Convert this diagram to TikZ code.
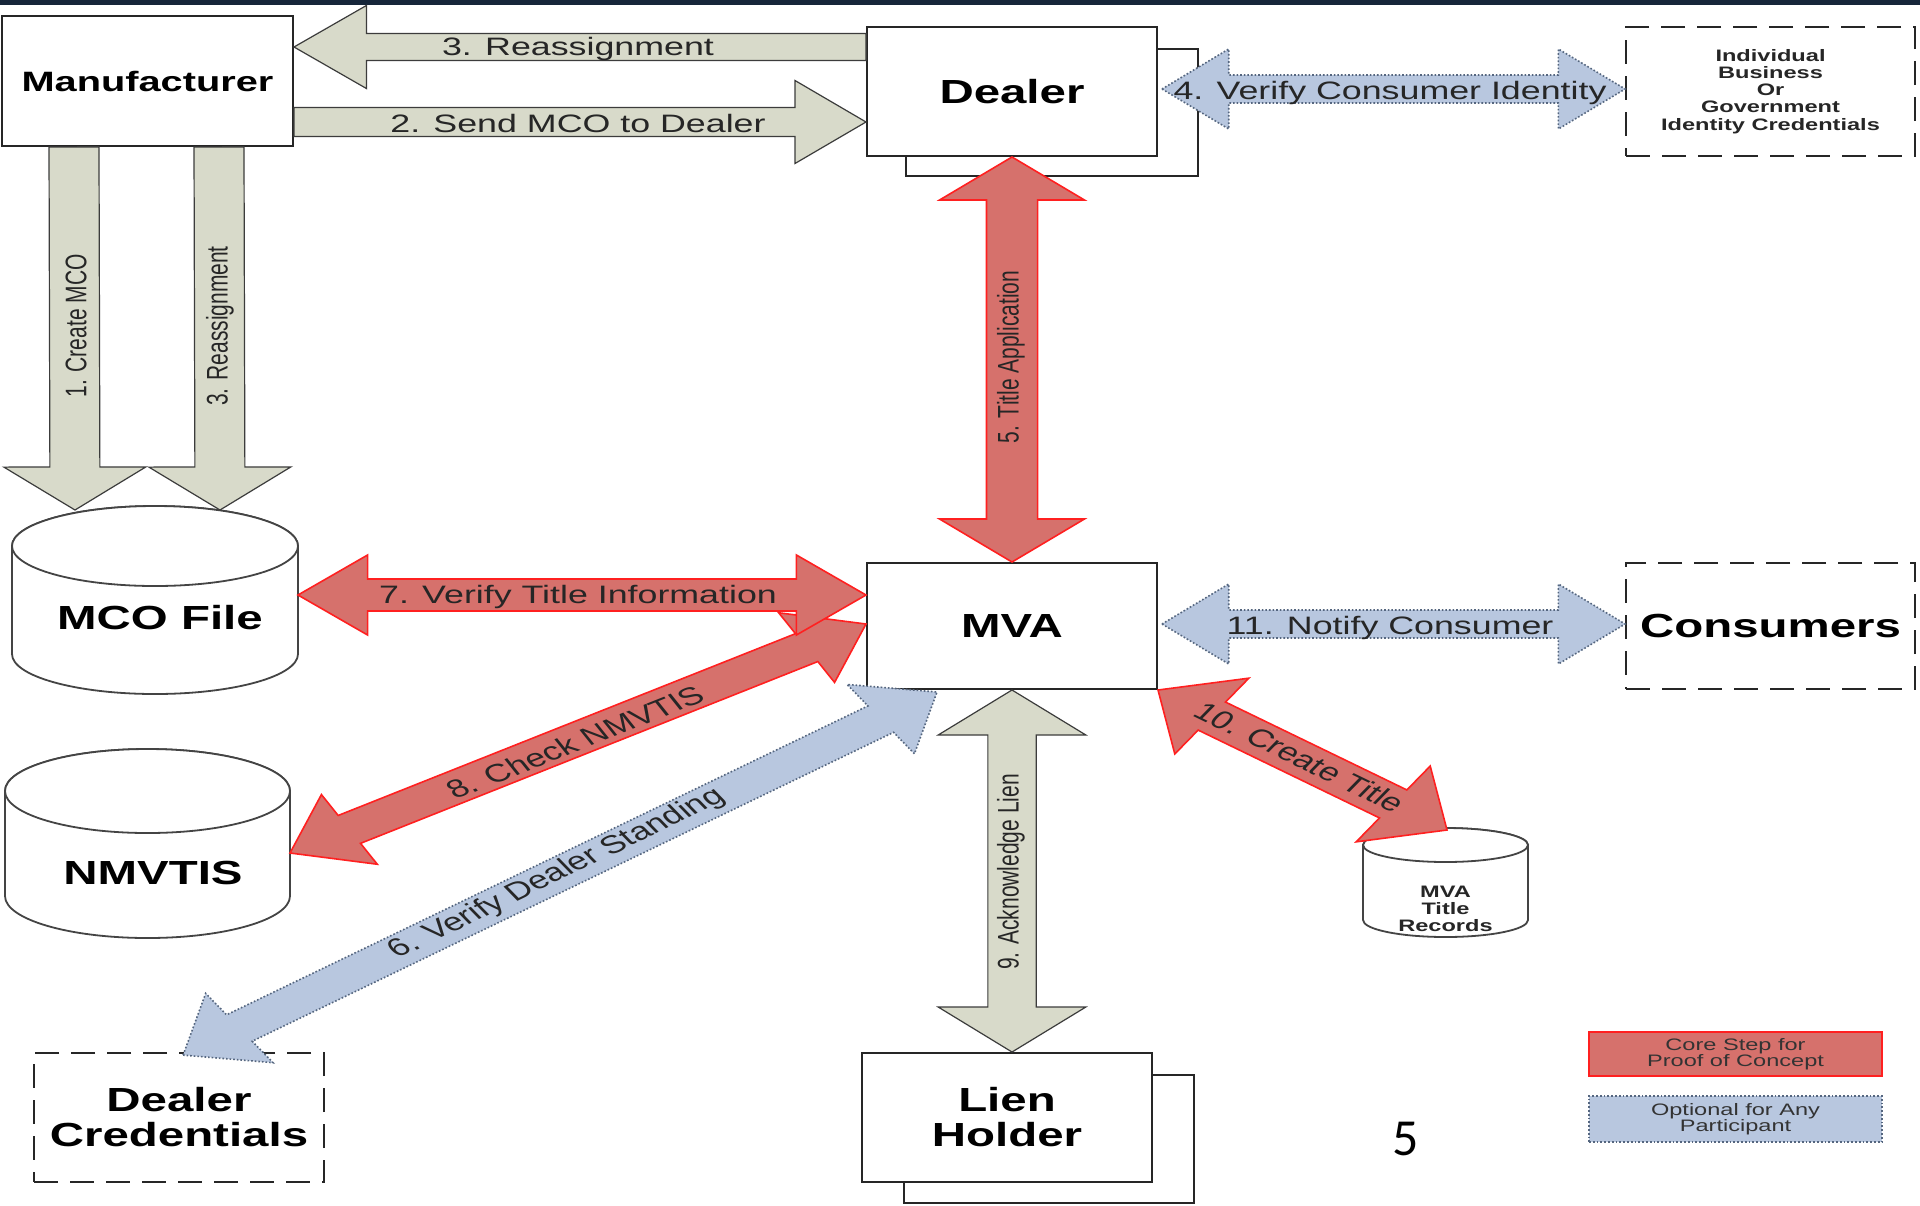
\documentclass[tikz,border=0pt]{standalone}
\usepackage{fontspec}
\setmainfont{Liberation Sans}
\newfontfamily\wfont[FakeStretch=1.42]{Liberation Sans}
\newfontfamily\vfont[FakeStretch=0.7042]{Liberation Sans}
\newfontfamily\calibfont{Carlito}
\usetikzlibrary{calc}

\definecolor{beige}{HTML}{D8DACA}
\definecolor{beigeline}{HTML}{3C3C3C}
\definecolor{redfill}{HTML}{D6716C}
\definecolor{redline}{HTML}{FF2020}
\definecolor{bluefill}{HTML}{B8C7DF}
\definecolor{blueline}{HTML}{55667F}
\definecolor{topbar}{HTML}{16263A}
\definecolor{cylline}{HTML}{444444}

\newdimen\BAx \newdimen\BAy \newdimen\BBx \newdimen\BBy
\def\sfac{1.42}

% point at distance #4 along, #5 across, from base (#2,#3)
\newcommand\bap[5]{\coordinate (#1) at ({#2+(#4)*(\bex)*1pt+(#5)*(\bnx)*1pt},{#3+(#4)*(\bey)*1pt+(#5)*(\bny)*1pt});}

% #1 style, #2 from, #3 to, #4 shaft half width, #5 head half width, #6 head length, #7 d=double s=single
\newcommand\blockarrow[7]{%
  \pgfextractx{\BAx}{\pgfpointanchor{#2}{center}}%
  \pgfextracty{\BAy}{\pgfpointanchor{#2}{center}}%
  \pgfextractx{\BBx}{\pgfpointanchor{#3}{center}}%
  \pgfextracty{\BBy}{\pgfpointanchor{#3}{center}}%
  \pgfmathsetmacro\bdx{\BBx-\BAx}%
  \pgfmathsetmacro\bdy{\BBy-\BAy}%
  \pgfmathsetmacro\bL{100*veclen((\bdx)/(100*\sfac),(\bdy)/100)}%
  \pgfmathsetmacro\bex{(\bdx)/\bL}%
  \pgfmathsetmacro\bey{(\bdy)/\bL}%
  \pgfmathsetmacro\bnx{-\sfac*(\bdy)/\bL}%
  \pgfmathsetmacro\bny{(\bdx)/(\sfac*\bL)}%
  \pgfmathsetmacro\bw{#4*0.5}%
  \pgfmathsetmacro\bH{#5*0.5}%
  \pgfmathsetmacro\bh{#6*0.5}%
  \if d#7%
    \bap{q1}{\BAx}{\BAy}{0}{0}%
    \bap{q2}{\BAx}{\BAy}{\bh}{\bH}%
    \bap{q3}{\BAx}{\BAy}{\bh}{\bw}%
    \bap{q4}{\BBx}{\BBy}{-\bh}{\bw}%
    \bap{q5}{\BBx}{\BBy}{-\bh}{\bH}%
    \bap{q6}{\BBx}{\BBy}{0}{0}%
    \bap{q7}{\BBx}{\BBy}{-\bh}{-\bH}%
    \bap{q8}{\BBx}{\BBy}{-\bh}{-\bw}%
    \bap{q9}{\BAx}{\BAy}{\bh}{-\bw}%
    \bap{q10}{\BAx}{\BAy}{\bh}{-\bH}%
    \draw[#1] (q1)--(q2)--(q3)--(q4)--(q5)--(q6)--(q7)--(q8)--(q9)--(q10)--cycle;%
  \else
    \bap{q1}{\BAx}{\BAy}{0}{\bw}%
    \bap{q2}{\BBx}{\BBy}{-\bh}{\bw}%
    \bap{q3}{\BBx}{\BBy}{-\bh}{\bH}%
    \bap{q4}{\BBx}{\BBy}{0}{0}%
    \bap{q5}{\BBx}{\BBy}{-\bh}{-\bH}%
    \bap{q6}{\BBx}{\BBy}{-\bh}{-\bw}%
    \bap{q7}{\BAx}{\BAy}{0}{-\bw}%
    \draw[#1] (q1)--(q2)--(q3)--(q4)--(q5)--(q6)--(q7)--cycle;%
  \fi
}

% cylinder: left, right, top, bottom, ry
\newcommand\cylinderdraw[5]{%
  \pgfmathsetmacro\ccx{(#1+#2)/2}%
  \pgfmathsetmacro\crx{(#2-#1)/2}%
  \draw[cylstyle] (#1,#3+#5) -- (#1,#4-#5) arc[start angle=180,end angle=0,x radius=\crx,y radius=#5]
     -- (#2,#3+#5) arc[start angle=0,end angle=-180,x radius=\crx,y radius=#5] -- cycle;
  \draw[cylstyle] (\ccx,#3+#5) ellipse[x radius=\crx,y radius=#5];
}

\begin{document}
\begin{tikzpicture}[x=0.5pt,y=-0.5pt,
  box/.style={draw=black!85, line width=1pt, fill=white, inner sep=0pt},
  dashbox/.style={draw=black!85, line width=0.9pt, dash pattern=on 12pt off 6pt, fill=white, inner sep=0pt},
  cylstyle/.style={draw=cylline, line width=0.9pt, fill=white},
  beigearrow/.style={fill=beige, draw=beigeline, line width=0.6pt},
  redarrow/.style={fill=redfill, draw=redline, line width=0.8pt},
  bluearrow/.style={fill=bluefill, draw=blueline, line width=0.8pt, densely dotted},
  boxtext/.style={font=\wfont\fontsize{16.7}{17.5}\selectfont\bfseries, text=black, align=center},
  smalltext/.style={font=\wfont\fontsize{8.3}{8.6}\selectfont\bfseries, text=black!85, align=center},
  legtext/.style={font=\wfont\fontsize{8.3}{8.1}\selectfont, text=black!80, align=center},
  alabel/.style={font=\wfont\fontsize{12.6}{14}\selectfont, inner sep=0pt, text=black!85},
  dlabel/.style={font=\fontsize{12.6}{14}\selectfont, inner sep=0pt, xscale=1.42, text=black!85},
  vlabel/.style={font=\vfont\fontsize{14.9}{16}\selectfont, inner sep=0pt, rotate=90, text=black!85}
]
\useasboundingbox (0,0) rectangle (1920,1205);
\fill[white] (0,0) rectangle (1920,1205);
\fill[topbar] (0,0) rectangle (1920,5);

% boxes
\node[box, minimum width=145.5pt, minimum height=65pt, font=\wfont\fontsize{14}{16}\selectfont\bfseries] (man) at (147.5,81) {Manufacturer};
\node[box, minimum width=146pt, minimum height=63.5pt] (dealershadow) at (1052,112.5) {};
\node[box, minimum width=145pt, minimum height=64.5pt, boxtext] (dealer) at (1012,91.5) {Dealer};
\node[dashbox, minimum width=144.5pt, minimum height=64.5pt, smalltext] (indiv) at (1770.5,91.5)
  {Individual\\Business\\Or\\Government\\Identity Credentials};
\node[box, minimum width=145pt, minimum height=63pt, boxtext] (mva) at (1012,626) {MVA};
\node[dashbox, minimum width=144.5pt, minimum height=63pt, boxtext] (cons) at (1770.5,626) {Consumers};
\node[box, minimum width=145pt, minimum height=64pt] (lienshadow) at (1049,1139) {};
\node[box, minimum width=145pt, minimum height=64.5pt, boxtext] (lien) at (1007,1117.5) {Lien\\Holder};
\node[dashbox, minimum width=145pt, minimum height=64.5pt, boxtext] (dcred) at (179,1117.5) {Dealer\\Credentials};

% cylinders
\cylinderdraw{12}{298}{506}{694}{40}
\node[boxtext] (mco) at (160,618) {MCO File};
\cylinderdraw{5}{290}{749}{938}{42}
\node[boxtext] (nmvtis) at (153,873) {NMVTIS};
\cylinderdraw{1363}{1528}{828}{937}{17}
\node[smalltext] (records) at (1445.5,909) {MVA\\Title\\Records};

% legend
\node[draw=redline, fill=redfill, line width=1pt, minimum width=146.5pt, minimum height=22pt, inner sep=0pt, legtext] (legcore) at (1735.5,1054)
  {Core Step for\\Proof of Concept};
\node[draw=blueline, fill=bluefill, line width=0.9pt, densely dotted, minimum width=146.5pt, minimum height=23pt, inner sep=0pt, legtext] (legopt) at (1735.5,1119)
  {Optional for Any\\Participant};

\node[font=\calibfont\fontsize{26}{30}\selectfont] (pagenum) at (1406,1139) {5};

% connector end points
\coordinate (a3s) at ($(dealer.west)+(0,-44.5)$);
\coordinate (a3e) at ($(man.east)+(0,-34)$);
\coordinate (a2s) at ($(man.east)+(0,41)$);
\coordinate (a2e) at ($(dealer.west)+(0,30.5)$);
\coordinate (a1s) at ($(man.south west)+(73,0)$);
\coordinate (a1e) at (75,510);
\coordinate (a3vs) at ($(man.south west)+(218,0)$);
\coordinate (a3ve) at (220,510);
\coordinate (a4s) at ($(dealer.east)+(4,-2.5)$);
\coordinate (a4e) at ($(indiv.west)+(0,-2.5)$);
\coordinate (a5s) at (dealer.south);
\coordinate (a5e) at (mva.north);
\coordinate (a7s) at (298,595);
\coordinate (a7e) at ($(mva.west)+(0,-31)$);
\coordinate (a8s) at (290,853);
\coordinate (a8e) at ($(mva.west)+(0,-2)$);
\coordinate (a6s) at ($(dcred.north west)+(150,3)$);
\coordinate (a6e) at ($(mva.south west)+(71,2)$);
\coordinate (a9s) at (mva.south);
\coordinate (a9e) at (mva.south |- lien.north);
\coordinate (a10s) at (mva.south east);
\coordinate (a10e) at (1447,830);
\coordinate (a11s) at ($(mva.east)+(4,-2)$);
\coordinate (a11e) at ($(cons.west)+(0,-2)$);

% arrows
\blockarrow{beigearrow}{a3s}{a3e}{13.5}{41.5}{51}{s}
\blockarrow{beigearrow}{a2s}{a2e}{14.5}{41.5}{50}{s}
\blockarrow{beigearrow}{a1s}{a1e}{17.6}{50}{43}{s}
\blockarrow{beigearrow}{a3vs}{a3ve}{17.6}{50}{43}{s}
\blockarrow{bluearrow}{a4s}{a4e}{14}{40}{47}{d}
\blockarrow{redarrow}{a5s}{a5e}{18}{51}{43}{d}
\blockarrow{bluearrow}{a6s}{a6e}{16}{42}{48}{d}
\blockarrow{redarrow}{a8s}{a8e}{16}{40}{48}{d}
\blockarrow{redarrow}{a7s}{a7e}{16}{40}{49}{d}
\blockarrow{beigearrow}{a9s}{a9e}{17}{52}{45}{d}
\blockarrow{redarrow}{a10s}{a10e}{17}{46}{46}{d}
\blockarrow{bluearrow}{a11s}{a11e}{14}{40}{47}{d}

% labels
\node[alabel] (l3) at (578,49) {3. Reassignment};
\node[alabel] (l2) at (578,123) {2. Send MCO to Dealer};
\node[vlabel] (l1) at (76,326) {1. Create MCO};
\node[vlabel] (l3v) at (220,326) {3. Reassignment};
\node[alabel] (l4) at (1390,93) {4. Verify Consumer Identity};
\node[vlabel] (l5) at (1011,357) {5. Title Application};
\node[alabel] (l7) at (578,597) {7. Verify Title Information};
\node[dlabel, rotate=29.4] (l8) at (575,742) {8. Check NMVTIS};
\node[dlabel, rotate=34.5] (l6) at (557,874) {6. Verify Dealer Standing};
\node[vlabel] (l9) at (1011,872) {9. Acknowledge Lien};
\node[dlabel, rotate=-34.6] (l10) at (1300,757) {10. Create Title};
\node[alabel] (l11) at (1390,628) {11. Notify Consumer};
\end{tikzpicture}
\end{document}
